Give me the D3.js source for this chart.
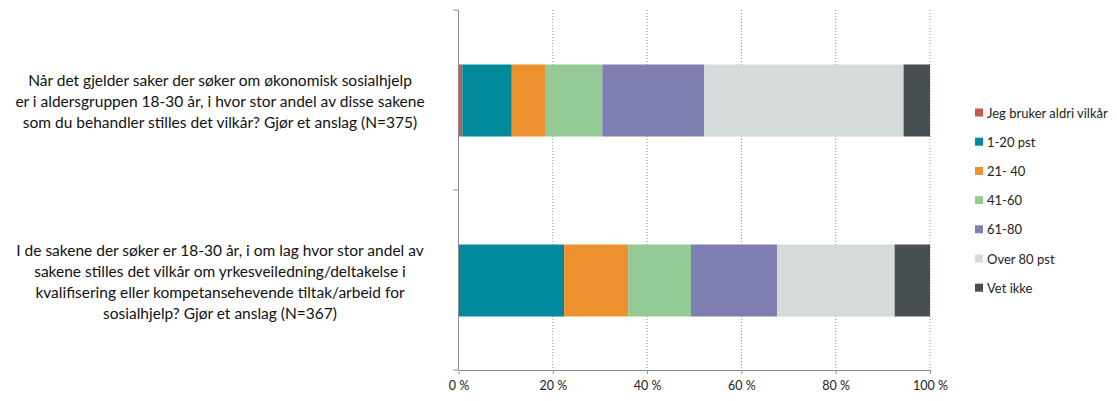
<!DOCTYPE html>
<html>
<head>
<meta charset="utf-8">
<script src="https://cdn.jsdelivr.net/npm/d3@7"></script>
<style>
  html, body { margin: 0; padding: 0; background: #fff; }
  svg { display: block; font-family: Lato, "Open Sans", sans-serif; }
</style>
</head>
<body>
<svg id="chart" width="1117" height="401"></svg>
<script>
// Questions (each one a horizontal stacked bar), with their wrapped label lines
const questions = ["q1", "q2"];
const questionLines = [
  ["Når det gjelder saker der søker om økonomisk sosialhjelp",
   "er i aldersgruppen 18-30 år, i hvor stor andel av disse sakene",
   "som du behandler stilles det vilkår? Gjør et anslag (N=375)"],
  ["I de sakene der søker er 18-30 år, i om lag hvor stor andel av",
   "sakene stilles det vilkår om yrkesveiledning/deltakelse i",
   "kvalifisering eller kompetansehevende tiltak/arbeid for",
   "sosialhjelp? Gjør et anslag (N=367)"]
];

// Answer categories and their share (%) per question
const categories = ["Jeg bruker aldri vilkår", "1-20 pst", "21- 40", "41-60", "61-80", "Over 80 pst", "Vet ikke"];
const colors = ["#CB5752", "#00899A", "#EC912E", "#94CA95", "#7F7EB1", "#D5DADA", "#474F52"];
const neverValues   = [0.8, 0.0];
const pct1to20      = [10.5, 22.4];
const pct21to40     = [7.2, 13.6];
const pct41to60     = [12.0, 13.3];
const pct61to80     = [21.6, 18.3];
const over80Values  = [42.3, 24.9];
const dontKnowValues = [5.6, 7.5];
const seriesValues = [neverValues, pct1to20, pct21to40, pct41to60, pct61to80, over80Values, dontKnowValues];

const xTicks = [0, 20, 40, 60, 80, 100];
const xTickLabels = ["0 %", "20 %", "40 %", "60 %", "80 %", "100 %"];

const svg = d3.select("#chart");
const plot = { left: 458.5, right: 930, top: 10, bottom: 370 };

const x = d3.scaleLinear().domain([0, 100]).range([plot.left, plot.right]);
const y = d3.scaleBand().domain(questions).range([plot.top, plot.bottom]).paddingInner(0.6).paddingOuter(0.3);

// Rows for the stack
const rows = questions.map((q, i) => {
  const r = { q };
  categories.forEach((c, j) => { r[c] = seriesValues[j][i]; });
  return r;
});
const stacked = d3.stack().keys(categories)(rows);

// Dotted vertical gridlines
svg.append("g").selectAll("line")
  .data(xTicks.filter(t => t > 0))
  .join("line")
  .attr("x1", d => x(d)).attr("x2", d => x(d))
  .attr("y1", plot.top).attr("y2", plot.bottom)
  .attr("stroke", "#8c8c8c").attr("stroke-width", 1)
  .attr("stroke-dasharray", "1,2");

// Bars
svg.append("g").selectAll("g")
  .data(stacked)
  .join("g")
  .attr("fill", (d, i) => colors[i])
  .selectAll("rect")
  .data(d => d)
  .join("rect")
  .attr("x", d => x(d[0]))
  .attr("width", d => Math.max(0, x(d[1]) - x(d[0])))
  .attr("y", d => y(d.data.q) + 0.5)
  .attr("height", y.bandwidth());

// X axis
const xAxis = d3.axisBottom(x).tickValues(xTicks)
  .tickFormat((d, i) => xTickLabels[i]).tickSize(4).tickSizeOuter(0);
const gx = svg.append("g").attr("transform", `translate(0,${plot.bottom})`).call(xAxis);
gx.select(".domain").attr("stroke", "#8c8c8c");
gx.selectAll(".tick line").attr("stroke", "#8c8c8c");
gx.selectAll(".tick text").attr("font-size", 12.5).attr("fill", "#222").attr("dy", "1.0em")
  .attr("font-family", "Lato, sans-serif");

// Y axis: line with boundary ticks between categories
const yEdges = [plot.top, (plot.top + plot.bottom) / 2, plot.bottom];
svg.append("line")
  .attr("x1", plot.left).attr("x2", plot.left)
  .attr("y1", plot.top).attr("y2", plot.bottom)
  .attr("stroke", "#8c8c8c");
svg.append("g").selectAll("line").data(yEdges).join("line")
  .attr("x1", plot.left - 5).attr("x2", plot.left)
  .attr("y1", d => d).attr("y2", d => d)
  .attr("stroke", "#8c8c8c");

// Question labels, centered in the left margin
const lineH = 21;
questions.forEach((q, i) => {
  const lines = questionLines[i];
  const cy = y(q) + y.bandwidth() / 2 + 1.8;
  const t = svg.append("text")
    .attr("text-anchor", "middle")
    .attr("font-size", 15.5)
    .attr("fill", "#111");
  lines.forEach((ln, k) => {
    t.append("tspan")
      .attr("x", 220)
      .attr("y", cy + (k - (lines.length - 1) / 2) * lineH)
      .attr("dy", "0.35em")
      .text(ln);
  });
});

// Legend
const legend = svg.append("g").attr("transform", "translate(975,113)");
const li = legend.selectAll("g").data(categories).join("g")
  .attr("transform", (d, i) => `translate(0,${i * 29.2})`);
li.append("rect").attr("x", 0).attr("y", -4.5).attr("width", 8).attr("height", 8)
  .attr("fill", (d, i) => colors[i]);
li.append("text").attr("x", 12).attr("y", 0).attr("dy", "0.35em")
  .attr("font-size", 13).attr("fill", "#222").text(d => d);
</script>
</body>
</html>
